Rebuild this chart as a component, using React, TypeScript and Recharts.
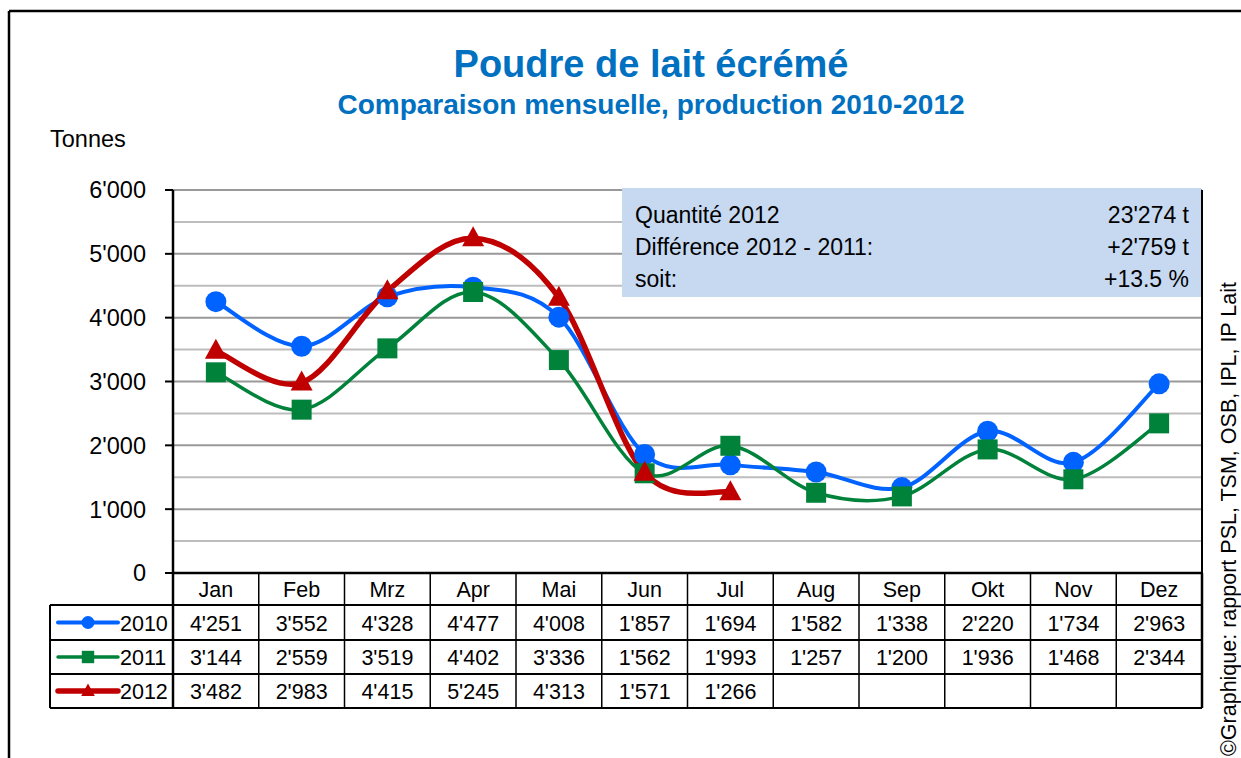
import React from 'react';
import { ComposedChart, Line, XAxis, YAxis, ReferenceLine } from 'recharts';

const months = ['Jan', 'Feb', 'Mrz', 'Apr', 'Mai', 'Jun', 'Jul', 'Aug', 'Sep', 'Okt', 'Nov', 'Dez'];
const prod2010 = [4251, 3552, 4328, 4477, 4008, 1857, 1694, 1582, 1338, 2220, 1734, 2963];
const prod2011 = [3144, 2559, 3519, 4402, 3336, 1562, 1993, 1257, 1200, 1936, 1468, 2344];
const prod2012 = [3482, 2983, 4415, 5245, 4313, 1571, 1266];
const yTicks = [0, 1000, 2000, 3000, 4000, 5000, 6000];
const gridLevels = [500, 1000, 1500, 2000, 2500, 3000, 3500, 4000, 4500, 5000, 5500, 6000];
const infoLabels = ['Quantité 2012', 'Différence 2012 - 2011:', 'soit:'];
const infoValues = ["23'274 t", "+2'759 t", '+13.5 %'];

const FONT = '"Liberation Sans", Arial, sans-serif';
const W = 1241;
const H = 758;
const PLOT_LEFT = 173;
const PLOT_RIGHT = 1202;
const PLOT_TOP = 190;
const PLOT_BOTTOM = 573;
const COL_W = (PLOT_RIGHT - PLOT_LEFT) / months.length;
const LEGEND_LEFT = 50;
const ROW_TOPS = [605, 640, 674, 708];

type Shape = 'circle' | 'square' | 'triangle';

const series: { key: string; name: string; values: number[]; color: string; width: number; shape: Shape }[] = [
  { key: 'y2010', name: '2010', values: prod2010, color: '#0063FF', width: 4, shape: 'circle' },
  { key: 'y2011', name: '2011', values: prod2011, color: '#00823B', width: 3.5, shape: 'square' },
  { key: 'y2012', name: '2012', values: prod2012, color: '#C00000', width: 5.5, shape: 'triangle' },
];

const data = months.map((m, i) => {
  const row: any = { month: m };
  series.forEach((s) => {
    row[s.key] = s.values[i] ?? null;
  });
  return row;
});

const fmt = (v: number) => String(v).replace(/\B(?=(\d{3})+(?!\d))/g, "'");

// Excel-like smoothing: cubic bezier through points, control points from neighbours
const excelCurve = (context: any) => {
  let pts: [number, number][] = [];
  return {
    areaStart() {},
    areaEnd() {},
    lineStart() {
      pts = [];
    },
    point(x: number, y: number) {
      pts.push([+x, +y]);
    },
    lineEnd() {
      if (!pts.length) return;
      context.moveTo(pts[0][0], pts[0][1]);
      for (let i = 0; i < pts.length - 1; i++) {
        const p0 = pts[Math.max(i - 1, 0)];
        const p1 = pts[i];
        const p2 = pts[i + 1];
        const p3 = pts[Math.min(i + 2, pts.length - 1)];
        context.bezierCurveTo(
          p1[0] + (p2[0] - p0[0]) / 6,
          p1[1] + (p2[1] - p0[1]) / 6,
          p2[0] - (p3[0] - p1[0]) / 6,
          p2[1] - (p3[1] - p1[1]) / 6,
          p2[0],
          p2[1]
        );
      }
    },
  };
};

const Marker = ({ shape, cx, cy, color, k = 1 }: { shape: Shape; cx: number; cy: number; color: string; k?: number }) => {
  if (shape === 'circle') return <circle cx={cx} cy={cy} r={10.5 * k} fill={color} />;
  if (shape === 'square') return <rect x={cx - 10 * k} y={cy - 10 * k} width={20 * k} height={20 * k} fill={color} />;
  return (
    <polygon
      points={`${cx},${cy - 12 * k} ${cx - 11 * k},${cy + 8 * k} ${cx + 11 * k},${cy + 8 * k}`}
      fill={color}
    />
  );
};

const markerDot = (shape: Shape, color: string) => (props: any) => {
  const { cx, cy, index, value } = props;
  if (value == null || !Number.isFinite(cx) || !Number.isFinite(cy)) return <g key={`e-${index}`} />;
  return (
    <g key={`m-${index}`}>
      <Marker shape={shape} cx={cx} cy={cy} color={color} />
    </g>
  );
};

const TableOverlay = () => {
  const colLines = months.map((_, i) => PLOT_LEFT + i * COL_W).concat([PLOT_RIGHT]);
  return (
    <svg width={W} height={H} style={{ position: 'absolute', left: 0, top: 0, pointerEvents: 'none' }}>
      {/* outer frame */}
      <line x1={9} y1={11} x2={9} y2={H} stroke="#000" strokeWidth={2.5} />
      <line x1={9} y1={11} x2={W} y2={11} stroke="#000" strokeWidth={2.5} />

      {/* titles */}
      <text x={651} y={77} textAnchor="middle" fontFamily={FONT} fontWeight="bold" fontSize={38} fill="#0070C0">
        Poudre de lait écrémé
      </text>
      <text x={651} y={114} textAnchor="middle" fontFamily={FONT} fontWeight="bold" fontSize={28} fill="#0070C0">
        Comparaison mensuelle, production 2010-2012
      </text>
      <text x={50} y={147} fontFamily={FONT} fontSize={23.5} fill="#000">
        Tonnes
      </text>

      {/* plot right border */}
      <line x1={PLOT_RIGHT} y1={PLOT_TOP} x2={PLOT_RIGHT} y2={PLOT_BOTTOM} stroke="#000" strokeWidth={2} />

      {/* info box */}
      <rect x={622} y={188} width={579} height={109} fill="#C6D9F1" />
      {infoLabels.map((l, i) => (
        <text key={`il-${i}`} x={635} y={223 + i * 32} fontFamily={FONT} fontSize={23} fill="#000">
          {l}
        </text>
      ))}
      {infoValues.map((v, i) => (
        <text key={`iv-${i}`} x={1189} y={223 + i * 32} textAnchor="end" fontFamily={FONT} fontSize={23} fill="#000">
          {v}
        </text>
      ))}

      {/* data table */}
      <line x1={PLOT_LEFT} y1={PLOT_BOTTOM} x2={PLOT_RIGHT} y2={PLOT_BOTTOM} stroke="#000" strokeWidth={2.5} />
      {ROW_TOPS.map((y, i) => (
        <line key={`h-${i}`} x1={LEGEND_LEFT} y1={y} x2={PLOT_RIGHT} y2={y} stroke="#000" strokeWidth={2} />
      ))}
      <line x1={LEGEND_LEFT} y1={ROW_TOPS[0]} x2={LEGEND_LEFT} y2={ROW_TOPS[3]} stroke="#000" strokeWidth={2} />
      {colLines.map((x, i) => (
        <line
          key={`v-${i}`}
          x1={x}
          y1={PLOT_BOTTOM}
          x2={x}
          y2={ROW_TOPS[3]}
          stroke="#000"
          strokeWidth={i === 0 || i === colLines.length - 1 ? 2.5 : 1.5}
        />
      ))}
      {months.map((m, i) => (
        <text
          key={`m-${i}`}
          x={PLOT_LEFT + (i + 0.5) * COL_W}
          y={597}
          textAnchor="middle"
          fontFamily={FONT}
          fontSize={21.5}
          fill="#000"
        >
          {m}
        </text>
      ))}
      {series.map((s, r) => {
        const mid = (ROW_TOPS[r] + ROW_TOPS[r + 1]) / 2;
        return (
          <g key={`row-${s.key}`}>
            <line x1={58} y1={mid} x2={118} y2={mid} stroke={s.color} strokeWidth={s.width} strokeLinecap="round" />
            <Marker shape={s.shape} cx={88} cy={mid} color={s.color} k={0.62} />
            <text x={120} y={mid + 8} fontFamily={FONT} fontSize={21.5} fill="#000">
              {s.name}
            </text>
            {s.values.map((v, i) => (
              <text
                key={`c-${i}`}
                x={PLOT_LEFT + (i + 0.5) * COL_W}
                y={mid + 8}
                textAnchor="middle"
                fontFamily={FONT}
                fontSize={21.5}
                fill="#000"
              >
                {fmt(v)}
              </text>
            ))}
          </g>
        );
      })}

      {/* source note */}
      <text transform="translate(1236, 756) rotate(-90)" fontFamily={FONT} fontSize={21.5} fill="#000">
        ©Graphique: rapport PSL, TSM, OSB, IPL, IP Lait
      </text>
    </svg>
  );
};

export default function App() {
  return (
    <div style={{ position: 'absolute', left: 0, top: 0, width: W, height: H, background: '#fff', overflow: 'hidden' }}>
      <ComposedChart
        width={W}
        height={H}
        data={data}
        margin={{ top: PLOT_TOP, right: W - PLOT_RIGHT, bottom: H - PLOT_BOTTOM, left: 0 }}
      >
        <XAxis dataKey="month" hide padding={{ left: COL_W / 2, right: COL_W / 2 }} />
        <YAxis
          width={PLOT_LEFT}
          domain={[0, 6000]}
          ticks={yTicks}
          tickFormatter={fmt}
          axisLine={{ stroke: '#000', strokeWidth: 2.5 }}
          tickLine={{ stroke: '#000', strokeWidth: 2 }}
          tickSize={8}
          tickMargin={19}
          tick={{ fill: '#000', fontSize: 23.5, fontFamily: FONT }}
        />
        {gridLevels.map((v) => (
          <ReferenceLine key={`g-${v}`} y={v} stroke={v % 1000 === 0 ? '#999999' : '#BDBDBD'} strokeWidth={2} />
        ))}
        {series.map((s) => (
          <Line
            key={s.key}
            dataKey={s.key}
            name={s.name}
            type={excelCurve as any}
            stroke={s.color}
            strokeWidth={s.width}
            dot={markerDot(s.shape, s.color)}
            activeDot={false}
            isAnimationActive={false}
          />
        ))}
      </ComposedChart>
      <TableOverlay />
    </div>
  );
}
